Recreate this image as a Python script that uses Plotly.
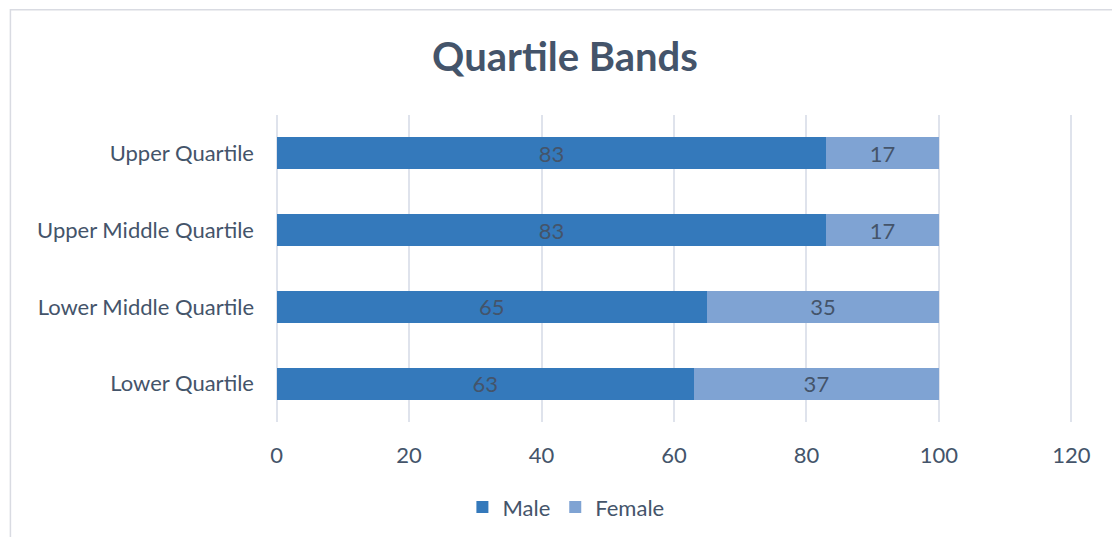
import plotly.graph_objects as go

categories = ["Lower Quartile", "Lower Middle Quartile", "Upper Middle Quartile", "Upper Quartile"]
male = [63, 65, 83, 83]
female = [37, 35, 17, 17]
x_ticks = [0, 20, 40, 60, 80, 100, 120]

TXT = "#44546a"
FONT = "Lato"

fig = go.Figure()
fig.add_trace(go.Bar(
    y=categories, x=male, name="Male", orientation="h",
    marker=dict(color="#3479bb", line=dict(width=0)),
    text=male, textposition="inside", insidetextanchor="middle", textangle=0,
    constraintext="none",
    textfont=dict(color=TXT, size=22, family=FONT),
))
fig.add_trace(go.Bar(
    y=categories, x=female, name="Female", orientation="h",
    marker=dict(color="#7fa3d3", line=dict(width=0)),
    text=female, textposition="inside", insidetextanchor="middle", textangle=0,
    constraintext="none",
    textfont=dict(color=TXT, size=22, family=FONT),
))

PAD = 0.4
SC = (1071 - 277) / 120.0
L, R, T, B = 277 - PAD * SC, 1071 + PAD * SC, 114.5, 422.5
W, H = 1112, 537

def px(x):
    return (x - L) / (R - L)

def py(y):
    return (B - y) / (B - T)

fig.update_layout(
    width=W, height=H,
    margin=dict(l=L, r=W - R, t=T, b=H - B, pad=0, autoexpand=False),
    barmode="stack", bargap=0.584,
    paper_bgcolor="white", plot_bgcolor="white",
    font=dict(family=FONT, color=TXT, size=22),
    title=dict(text="<b>Quartile Bands</b>", x=565 / W, xanchor="center",
               y=1 - 57 / H, yanchor="middle", xref="container", yref="container",
               font=dict(size=40, color=TXT, family=FONT)),
    showlegend=True,
    legend=dict(orientation="h", x=px(566), xanchor="center", y=py(508), yanchor="middle",
                font=dict(size=22, color=TXT, family=FONT), itemwidth=30,
                traceorder="normal"),
    xaxis=dict(range=[-PAD, 120 + PAD], tickvals=x_ticks, showgrid=True, gridcolor="#dfe3ec",
               gridwidth=1.5, zeroline=False, showline=False, ticks="",
               ticklabelstandoff=18, tickfont=dict(size=22, color=TXT, family=FONT)),
    yaxis=dict(showgrid=False, zeroline=False, showline=False, ticks="",
               ticklabelstandoff=int(round(22 - PAD * SC)), tickfont=dict(size=22, color=TXT, family=FONT)),
    shapes=[dict(type="rect", xref="paper", yref="paper",
                 x0=px(11), x1=px(1130), y0=py(560), y1=py(9),
                 line=dict(color="#d9dbe2", width=1.5), fillcolor="rgba(0,0,0,0)",
                 layer="below")],
)

fig.write_html("out.html")
